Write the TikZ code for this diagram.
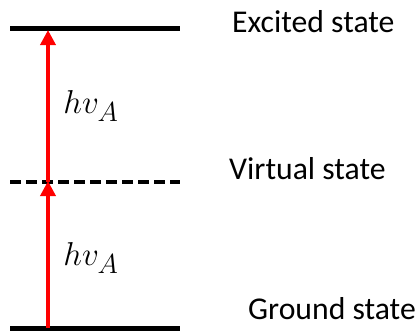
\documentclass[tikz,border=0pt]{standalone}
\usepackage{fontspec}
\setmainfont{Carlito}
\usetikzlibrary{arrows.meta}
\begin{document}
\begin{tikzpicture}[x=1pt,y=-1pt,
  level/.style={line width=5pt},
  vlevel/.style={line width=4pt, dash pattern=on 11pt off 5pt},
  photon/.style={red, line width=3.5pt, -{Triangle[length=15pt,width=15pt]}, shorten >=-1pt},
  statelabel/.style={font=\fontsize{31.7}{38}\selectfont, inner sep=0pt},
  energy/.style={font=\fontsize{24.88}{30}\selectfont, inner sep=0pt, scale=1.33}]
\useasboundingbox (0,0) rectangle (419,330);
\coordinate (e1) at (10,28);
\coordinate (e2) at (180,28);
\coordinate (v1) at (10,182);
\coordinate (v2) at (180,182);
\coordinate (g1) at (10,328);
\coordinate (g2) at (180,328);
\coordinate (a0) at (48,328);
\coordinate (a1) at (48,182);
\coordinate (a2) at (48,31);
\draw[level] (e1) -- (e2);
\draw[vlevel] (v1) -- (v2);
\draw[level] (g1) -- (g2);
\draw[photon] (a0) -- (a1);
\draw[photon] (a1) -- (a2);
\node[energy] (h1) at (91,106) {$hv_A$};
\node[energy] (h2) at (91,258) {$hv_A$};
\node[statelabel, anchor=base west] (ex) at (232,32) {Excited state};
\node[statelabel, anchor=base west] (vi) at (229,179) {Virtual state};
\node[statelabel, anchor=base west] (gr) at (248,319) {Ground state};
\end{tikzpicture}
\end{document}
